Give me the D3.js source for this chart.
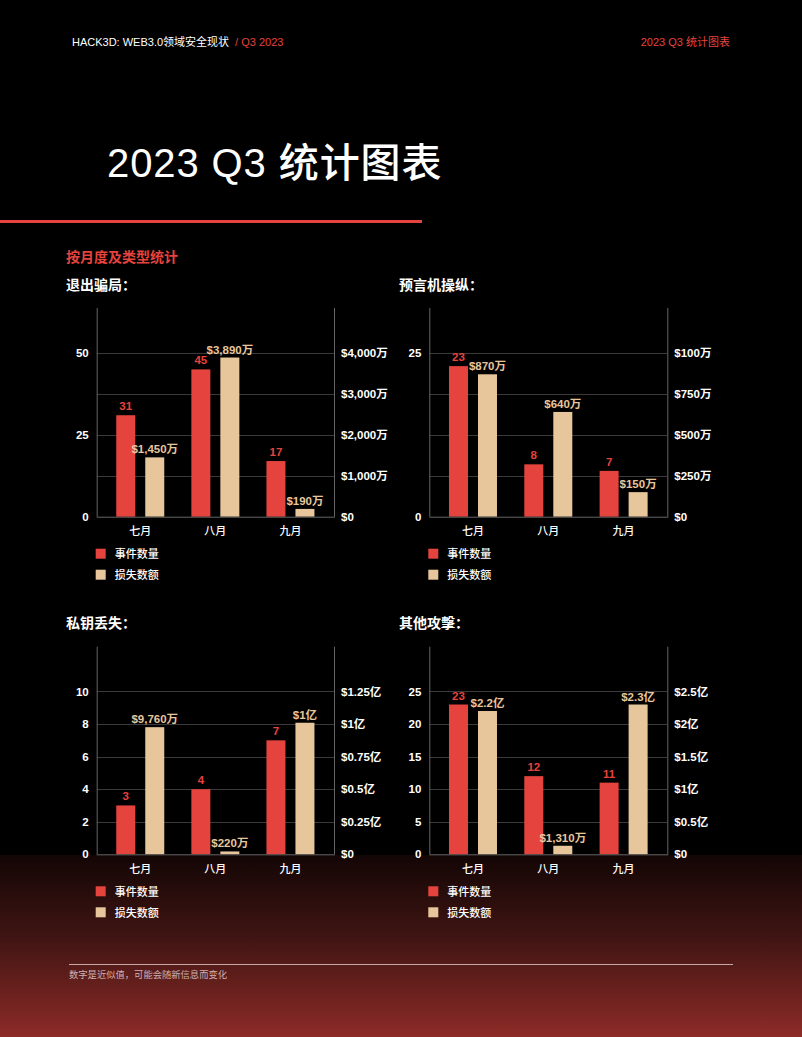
<!DOCTYPE html>
<html><head><meta charset="utf-8">
<script src="https://cdn.jsdelivr.net/npm/d3@7"></script>
<style>
html,body{margin:0;padding:0;background:#000;}
svg{display:block;}
text{font-family:"Liberation Sans","Noto Sans CJK SC",sans-serif;}
</style></head>
<body>
<script>
// ---- data ----
const months = ["七月", "八月", "九月"];
const seriesNames = ["事件数量", "损失数额"];

const exitCounts = [31, 45, 17];
const exitLosses = [1450, 3890, 190]; // 万美元
const exitLossLabels = ["$1,450万", "$3,890万", "$190万"];
const exitLeftTicks = [0, 25, 50];
const exitRightTicks = [0, 1000, 2000, 3000, 4000];
const exitRightTickLabels = ["$0", "$1,000万", "$2,000万", "$3,000万", "$4,000万"];

const oracleCounts = [23, 8, 7];
const oracleLosses = [870, 640, 150];
const oracleLossLabels = ["$870万", "$640万", "$150万"];
const oracleLeftTicks = [0, 25];
const oracleRightTicks = [0, 250, 500, 750, 1000];
const oracleRightTickLabels = ["$0", "$250万", "$500万", "$750万", "$100万"];

const keyCounts = [3, 4, 7];
const keyLosses = [9760, 220, 10100];
const keyLossLabels = ["$9,760万", "$220万", "$1亿"];
const keyLeftTicks = [0, 2, 4, 6, 8, 10];
const keyRightTicks = [0, 2500, 5000, 7500, 10000, 12500];
const keyRightTickLabels = ["$0", "$0.25亿", "$0.5亿", "$0.75亿", "$1亿", "$1.25亿"];

const otherCounts = [23, 12, 11];
const otherLosses = [22000, 1310, 23000];
const otherLossLabels = ["$2.2亿", "$1,310万", "$2.3亿"];
const otherLeftTicks = [0, 5, 10, 15, 20, 25];
const otherRightTicks = [0, 5000, 10000, 15000, 20000, 25000];
const otherRightTickLabels = ["$0", "$0.5亿", "$1亿", "$1.5亿", "$2亿", "$2.5亿"];

const panelTitles = ["退出骗局：", "预言机操纵：", "私钥丢失：", "其他攻擊："];

// ---- page ----
const W = 802, H = 1037;
const RED = "#e5433d", BEIGE = "#e8c69c";
const svg = d3.select("body").append("svg").attr("width", W).attr("height", H);
const defs = svg.append("defs");
const grad = defs.append("linearGradient").attr("id", "bg").attr("x1", 0).attr("y1", 0).attr("x2", 0).attr("y2", 1);
grad.append("stop").attr("offset", "0").attr("stop-color", "#130605");
grad.append("stop").attr("offset", "0.45").attr("stop-color", "#3f1513");
grad.append("stop").attr("offset", "1").attr("stop-color", "#8d2b27");
svg.append("rect").attr("width", W).attr("height", H).attr("fill", "#000");
svg.append("rect").attr("x", 0).attr("y", 855).attr("width", W).attr("height", H - 855).attr("fill", "url(#bg)");

// header
const hdr = svg.append("text").attr("x", 72).attr("y", 46).attr("font-size", 11).attr("fill", "#fff");
hdr.append("tspan").text("HACK3D: WEB3.0领域安全现状");
hdr.append("tspan").attr("fill", RED).attr("dx", 6).text("/ Q3 2023");
svg.append("text").attr("x", 730).attr("y", 46).attr("text-anchor", "end").attr("font-size", 11).attr("fill", RED).text("2023 Q3 统计图表");

// title
svg.append("text").attr("x", 107).attr("y", 177).attr("font-size", 40).attr("font-weight", 500)
  .attr("fill", "#fff").attr("letter-spacing", 0.9).text("2023 Q3 统计图表");
svg.append("rect").attr("x", 0).attr("y", 220).attr("width", 422).attr("height", 3).attr("fill", RED);

svg.append("text").attr("x", 66).attr("y", 262).attr("font-size", 14).attr("font-weight", 600)
  .attr("fill", RED).text("按月度及类型统计");

// footer
svg.append("line").attr("x1", 69).attr("x2", 733).attr("y1", 964.5).attr("y2", 964.5)
  .attr("stroke", "#c9a7a5").attr("stroke-width", 1);
svg.append("text").attr("x", 69).attr("y", 978).attr("font-size", 9.3).attr("fill", "#cfb0ae")
  .text("数字是近似值，可能会随新信息而变化");

// ---- panels ----
const panels = [
  {title: panelTitles[0], counts: exitCounts, losses: exitLosses, lossLabels: exitLossLabels,
   lt: exitLeftTicks, rt: exitRightTicks, rtl: exitRightTickLabels, x0: 96.7, x1: 334, y0: 308, y1: 516.7, tx: 66, ty: 290},
  {title: panelTitles[1], counts: oracleCounts, losses: oracleLosses, lossLabels: oracleLossLabels,
   lt: oracleLeftTicks, rt: oracleRightTicks, rtl: oracleRightTickLabels, x0: 429.3, x1: 667.3, y0: 308, y1: 516.7, tx: 399, ty: 290},
  {title: panelTitles[2], counts: keyCounts, losses: keyLosses, lossLabels: keyLossLabels,
   lt: keyLeftTicks, rt: keyRightTicks, rtl: keyRightTickLabels, x0: 96.7, x1: 334, y0: 646.7, y1: 854.3, tx: 66, ty: 628},
  {title: panelTitles[3], counts: otherCounts, losses: otherLosses, lossLabels: otherLossLabels,
   lt: otherLeftTicks, rt: otherRightTicks, rtl: otherRightTickLabels, x0: 429.3, x1: 667.3, y0: 646.7, y1: 854.3, tx: 399, ty: 628}
];

panels.forEach(p => {
  const g = svg.append("g");
  g.append("text").attr("x", p.tx).attr("y", p.ty).attr("font-size", 14).attr("font-weight", 600)
    .attr("fill", "#fff").text(p.title);

  const x = d3.scaleBand().domain(months).range([p.x0, p.x1]).paddingInner(0).paddingOuter(0.08);
  const yL = d3.scaleLinear().domain([0, d3.max(p.lt) * 1.275]).range([p.y1, p.y0]);
  const yR = d3.scaleLinear().domain([0, d3.max(p.rt) * 1.275]).range([p.y1, p.y0]);
  const cx = m => x(m) + x.bandwidth() / 2;

  // gridlines
  g.selectAll(".grid").data(p.rt.filter(v => v > 0)).join("line")
    .attr("x1", p.x0).attr("x2", p.x1)
    .attr("y1", d => Math.round(yR(d)) + 0.5).attr("y2", d => Math.round(yR(d)) + 0.5)
    .attr("stroke", "#3a3a3a").attr("stroke-width", 1);

  // bars
  const BW = 19;
  g.selectAll(".cbar").data(p.counts).join("rect")
    .attr("x", (d, i) => cx(months[i]) - 24).attr("width", BW)
    .attr("y", d => yL(d)).attr("height", d => yL(0) - yL(d)).attr("fill", RED);
  g.selectAll(".lbar").data(p.losses).join("rect")
    .attr("x", (d, i) => cx(months[i]) + 5).attr("width", BW)
    .attr("y", d => yR(d)).attr("height", d => yR(0) - yR(d)).attr("fill", BEIGE);

  // value labels
  g.selectAll(".clab").data(p.counts).join("text")
    .attr("x", (d, i) => cx(months[i]) - 24 + BW / 2).attr("y", d => yL(d) - 5)
    .attr("text-anchor", "middle").attr("font-size", 11.5).attr("font-weight", 700)
    .attr("fill", RED).text(d => d);
  g.selectAll(".llab").data(p.losses).join("text")
    .attr("x", (d, i) => cx(months[i]) + 5 + BW / 2).attr("y", d => yR(d) - 4)
    .attr("text-anchor", "middle").attr("font-size", 11.5).attr("font-weight", 600)
    .attr("fill", BEIGE).text((d, i) => p.lossLabels[i]);

  // axes
  const axL = g.append("g").attr("transform", `translate(${p.x0},0)`)
    .call(d3.axisLeft(yL).tickValues(p.lt).tickSize(0).tickPadding(8).tickFormat(d3.format("d")));
  const axR = g.append("g").attr("transform", `translate(${p.x1},0)`)
    .call(d3.axisRight(yR).tickValues(p.rt).tickSize(0).tickPadding(7).tickFormat((d, i) => p.rtl[i]));
  const axB = g.append("g").attr("transform", `translate(0,${p.y1})`)
    .call(d3.axisBottom(x).tickSize(0).tickPadding(11));
  [axL, axR, axB].forEach(a => {
    a.select(".domain").remove();
    a.selectAll("text").attr("fill", "#fff").attr("font-size", 11.5).attr("font-weight", 600)
      .style("font-family", '"Liberation Sans","Noto Sans CJK SC",sans-serif');
  });
  axB.selectAll("text").attr("font-size", 11).attr("font-weight", 500);

  // axis lines
  g.append("line").attr("x1", p.x0 + 0.5).attr("x2", p.x0 + 0.5).attr("y1", p.y0).attr("y2", p.y1)
    .attr("stroke", "#666");
  g.append("line").attr("x1", p.x1 + 0.5).attr("x2", p.x1 + 0.5).attr("y1", p.y0).attr("y2", p.y1)
    .attr("stroke", "#666");
  g.append("line").attr("x1", p.x0).attr("x2", p.x1 + 1).attr("y1", p.y1 + 0.5).attr("y2", p.y1 + 0.5)
    .attr("stroke", "#666");

  // legend
  const lg = g.append("g").attr("transform", `translate(${p.x0 - 1},${p.y1 + 32})`);
  lg.selectAll("rect").data(seriesNames).join("rect")
    .attr("x", 0).attr("y", (d, i) => i * 21).attr("width", 10).attr("height", 10)
    .attr("fill", (d, i) => i === 0 ? RED : BEIGE);
  lg.selectAll("text").data(seriesNames).join("text")
    .attr("x", 19).attr("y", (d, i) => i * 21 + 9.5).attr("font-size", 11).attr("font-weight", 500)
    .attr("fill", "#fff").text(d => d);
});
</script>
</body></html>
